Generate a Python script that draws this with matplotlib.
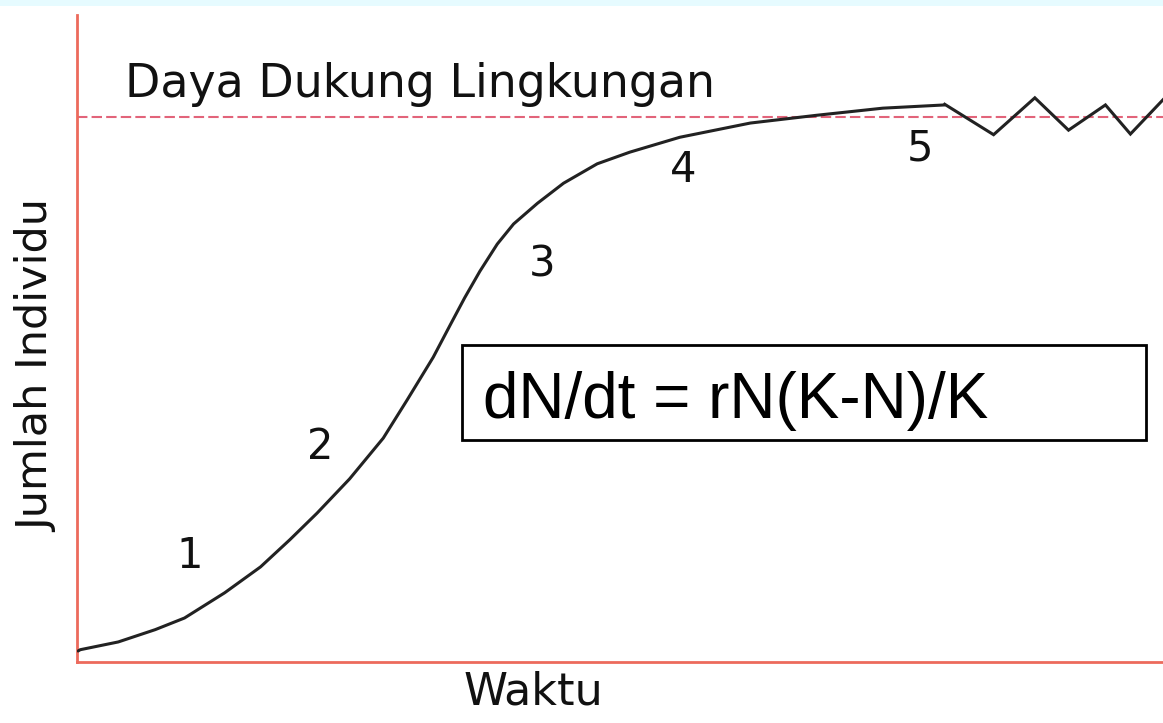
# =============================================================================
# Kurva pertumbuhan logistik populasi (kurva S) dengan daya dukung lingkungan
# =============================================================================

import matplotlib
matplotlib.use("Agg")
import matplotlib.pyplot as plt
import matplotlib.patches as patches

# Data kurva (waktu dan jumlah individu, skala 0-100)
waktu = [0.1, 0.3, 3.8, 7.2, 9.9, 13.6, 16.9, 19.6, 22.1, 25.1, 28.2, 30.4,
         32.8, 34.4, 35.7, 37.1, 38.7, 40.2, 42.4, 44.8, 47.9, 50.9, 55.5,
         62.0, 68.1, 74.2, 79.9]
jumlah = [1.7, 1.9, 3.1, 5.0, 6.8, 10.7, 14.7, 18.9, 23.0, 28.3, 34.6, 40.5,
          47.1, 52.2, 56.3, 60.4, 64.6, 67.7, 70.9, 74.0, 77.0, 78.8, 81.1,
          83.3, 84.5, 85.6, 86.1]

# Fluktuasi di sekitar daya dukung (fase 5)
waktu_fluktuasi = [79.9, 84.4, 88.2, 91.3, 94.7, 97.0, 100.0]
jumlah_fluktuasi = [86.2, 81.5, 87.2, 82.2, 86.1, 81.6, 86.9]

# Daya dukung lingkungan (K)
daya_dukung = 84.2

# Label fase pertumbuhan
fase = ["1", "2", "3", "4", "5"]
posisi_fase = [(10.4, 16.4), (22.4, 33.2), (42.8, 61.4), (55.8, 76.0), (77.6, 79.4)]

warna_sumbu = "#ec6a5c"
warna_k = "#e2647a"

fig = plt.figure(figsize=(11.63, 7.23), dpi=100)
fig.patch.set_facecolor("white")

# Strip biru muda di tepi atas
fig.patches.append(patches.Rectangle((0, 1 - 6 / 723), 1, 6 / 723,
                                     transform=fig.transFigure,
                                     facecolor="#e6fbff", edgecolor="none"))

ax = fig.add_axes([77 / 1163, 61 / 723, 1086 / 1163, 647 / 723])
ax.set_xlim(0, 100)
ax.set_ylim(0, 100)
ax.set_xticks([])
ax.set_yticks([])

for s in ["top", "right"]:
    ax.spines[s].set_visible(False)
for s in ["left", "bottom"]:
    ax.spines[s].set_color(warna_sumbu)
    ax.spines[s].set_linewidth(2)

# Garis daya dukung
ax.axhline(daya_dukung, color=warna_k, linewidth=1.5, linestyle=(0, (5, 2)),
           zorder=1)

# Kurva pertumbuhan + fluktuasi
ax.plot(waktu, jumlah, color="#222222", linewidth=2.2, zorder=3,
        solid_capstyle="round", solid_joinstyle="round")
ax.plot(waktu_fluktuasi, jumlah_fluktuasi, color="#222222", linewidth=2.2,
        zorder=3, solid_joinstyle="miter", clip_on=False)

# Teks
ax.text(4.4, 87.3, "Daya Dukung Lingkungan", fontsize=33, color="#111111",
        ha="left", va="baseline", family="DejaVu Sans")

for lbl, (x, y) in zip(fase, posisi_fase):
    ax.text(x, y, lbl, fontsize=30, color="#111111", ha="center",
            va="center", family="DejaVu Sans")

ax.set_ylabel("Jumlah Individu", fontsize=31, color="#111111",
              family="DejaVu Sans")
ax.set_xlabel("Waktu", fontsize=32, color="#111111", family="DejaVu Sans")
ax.xaxis.set_label_coords((533 - 77) / 1086, -(692 - 662) / 647)
ax.yaxis.set_label_coords(-(77 - 37) / 1086, (662 - 366) / 647)
ax.xaxis.label.set_va("center")
ax.yaxis.label.set_va("center")

# Kotak persamaan logistik
kotak = patches.Rectangle((35.45, 34.3), 63.0, 14.7, facecolor="white",
                          edgecolor="black", linewidth=2, zorder=4)
ax.add_patch(kotak)
ax.text(37.4, 37.7, "dN/dt = rN(K-N)/K", fontsize=46, color="black",
        ha="left", va="baseline", family="Liberation Sans", zorder=5)

plt.savefig("out.png", dpi=100)
